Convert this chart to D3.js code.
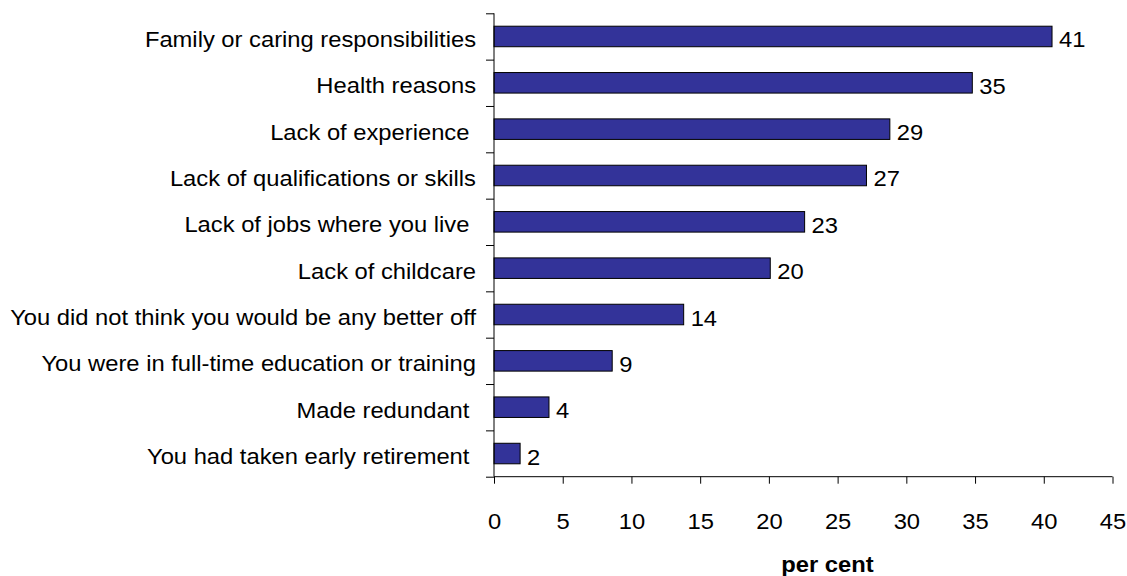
<!DOCTYPE html>
<html>
<head>
<meta charset="utf-8">
<script src="https://cdn.jsdelivr.net/npm/d3@7"></script>
<style>
  html, body { margin: 0; padding: 0; background: #fff; }
  svg { display: block; }
  text { font-family: "Liberation Sans", Arial, sans-serif; fill: #000; white-space: pre; }
</style>
</head>
<body>
<svg id="chart" width="1127" height="576"></svg>
<script>
const categories = [
  "Family or caring responsibilities",
  "Health reasons",
  "Lack of experience ",
  "Lack of qualifications or skills",
  "Lack of jobs where you live ",
  "Lack of childcare",
  "You did not think you would be any better off",
  "You were in full-time education or training",
  "Made redundant ",
  "You had taken early retirement "
];
const values = [40.6, 34.8, 28.8, 27.1, 22.6, 20.1, 13.8, 8.6, 4.0, 1.9];
const valueLabels = ["41", "35", "29", "27", "23", "20", "14", "9", "4", "2"];
const xTicks = [0, 5, 10, 15, 20, 25, 30, 35, 40, 45];
const xTitle = "per cent";

(function () {
const W = 1127, H = 576;
const plotLeft = 494, plotRight = 1112.5, plotTop = 13.3, plotBottom = 476.7;
const fontSize = 22, stretch = 1.08;

const svg = d3.select("#chart");

const x = d3.scaleLinear().domain([0, 45]).range([plotLeft, plotRight]);
const y = d3.scaleBand().domain(categories).range([plotTop, plotBottom])
  .paddingInner(0.557).paddingOuter(0.2785);
const yEdges = d3.scaleLinear().domain([0, categories.length]).range([plotTop, plotBottom]);

// bars
svg.append("g").selectAll("rect")
  .data(values)
  .join("rect")
  .attr("x", x(0))
  .attr("y", (d, i) => y(categories[i]))
  .attr("width", d => x(d) - x(0))
  .attr("height", y.bandwidth())
  .attr("fill", "#333399")
  .attr("stroke", "#000")
  .attr("stroke-width", 1);

// value labels
svg.append("g").selectAll("text")
  .data(values)
  .join("text")
  .attr("transform", (d, i) => `translate(${x(d) + 7},${y(categories[i]) + y.bandwidth() / 2 + 11}) scale(${stretch},1)`)
  .attr("font-size", fontSize)
  .text((d, i) => valueLabels[i]);

// y axis (category boundaries)
const yAxis = svg.append("g")
  .attr("transform", `translate(${plotLeft},0)`)
  .call(d3.axisLeft(yEdges).tickValues(d3.range(categories.length + 1)).tickSize(8).tickFormat(""));
yAxis.select(".domain").attr("d", `M0,${plotTop}V${plotBottom}`).attr("stroke", "#000");
yAxis.selectAll(".tick line").attr("stroke", "#000");

// category labels
svg.append("g").selectAll("text")
  .data(categories)
  .join("text")
  .attr("transform", d => `translate(${plotLeft - 18},${y(d) + y.bandwidth() / 2 + 10.5}) scale(${stretch},1)`)
  .attr("text-anchor", "end")
  .attr("font-size", fontSize)
  .text(d => d);

// x axis
const xAxis = svg.append("g")
  .attr("transform", `translate(0,${plotBottom})`)
  .call(d3.axisBottom(x).tickValues(xTicks).tickSize(7).tickPadding(30).tickFormat(d3.format("d")));
xAxis.select(".domain").attr("d", `M${plotLeft},0H${plotRight}`).attr("stroke", "#000");
xAxis.selectAll(".tick line").attr("stroke", "#000");
xAxis.selectAll(".tick text")
  .attr("font-size", fontSize)
  .attr("font-family", "Liberation Sans, Arial, sans-serif")
  .attr("fill", "#000")
  .attr("transform", `scale(${stretch},1)`);

// x title
svg.append("text")
  .attr("transform", `translate(827.5,572) scale(${stretch},1)`)
  .attr("text-anchor", "middle")
  .attr("font-size", fontSize)
  .attr("font-weight", "bold")
  .text(xTitle);
})();
</script>
</body>
</html>
